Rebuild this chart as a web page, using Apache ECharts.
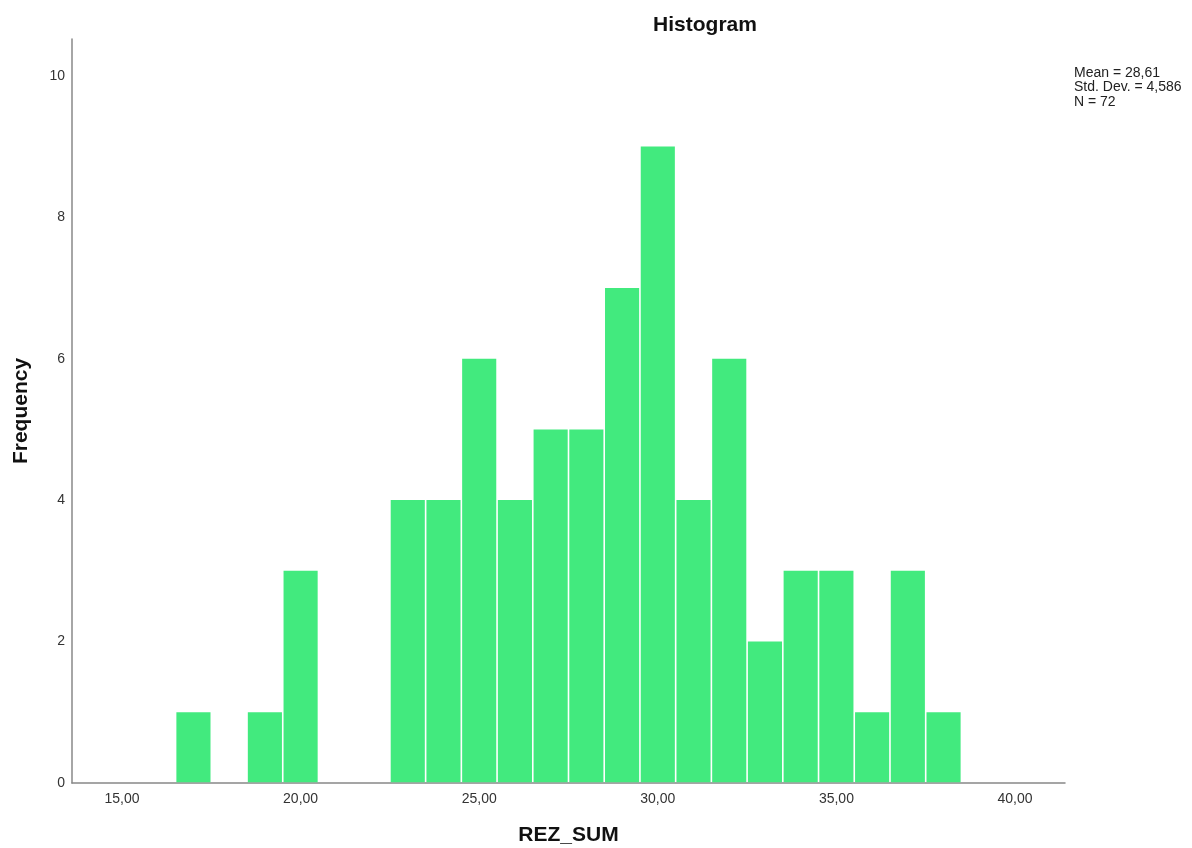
<!DOCTYPE html>
<html>
<head>
<meta charset="utf-8">
<script src="https://cdn.jsdelivr.net/npm/echarts@6/dist/echarts.min.js"></script>
<style>html,body{margin:0;padding:0;background:#fff}#c{width:1192px;height:848px}</style>
</head>
<body>
<div id="c"></div>
<script>
var binCenters = [17, 19, 20, 23, 24, 25, 26, 27, 28, 29, 30, 31, 32, 33, 34, 35, 36, 37, 38];
var frequencies = [1, 1, 3, 4, 4, 6, 4, 5, 5, 7, 9, 4, 6, 2, 3, 3, 1, 3, 1];
var binWidth = 1;
var xTickValues = [15, 20, 25, 30, 35, 40];
var xTickLabels = ['15,00', '20,00', '25,00', '30,00', '35,00', '40,00'];
var yTickValues = [0, 2, 4, 6, 8, 10];
var yTickLabels = ['0', '2', '4', '6', '8', '10'];
var statsLines = ['Mean = 28,61', 'Std. Dev. = 4,586', 'N = 72'];

var chart = echarts.init(document.getElementById('c'), null, {renderer: 'canvas'});
var FONT = '"Liberation Sans", Arial, sans-serif';
var data = binCenters.map(function (c, i) { return [c, frequencies[i]]; });

chart.setOption({
  animation: false,
  backgroundColor: '#ffffff',
  title: {
    text: 'Histogram',
    left: 700, top: 10, textAlign: 'center',
    textStyle: {fontFamily: FONT, fontSize: 21, fontWeight: 'bold', color: '#111'}
  },
  grid: {left: 72, right: 127, top: 39, bottom: 65, containLabel: false, outerBoundsMode: 'none'},
  xAxis: {
    type: 'value', min: 13.6, max: 41.4,
    name: 'REZ_SUM', nameLocation: 'middle', nameGap: 42,
    nameTextStyle: {fontFamily: FONT, fontSize: 21, fontWeight: 'bold', color: '#111'},
    axisLine: {show: true, lineStyle: {color: '#888', width: 1.5}},
    axisTick: {show: false},
    splitLine: {show: false},
    axisLabel: {
      customValues: xTickValues, margin: 9,
      fontFamily: FONT, fontSize: 14, color: '#333',
      formatter: function (v) { var i = xTickValues.indexOf(v); return i >= 0 ? xTickLabels[i] : ''; }
    }
  },
  yAxis: {
    type: 'value', min: 0, max: 10.52,
    name: 'Frequency', nameLocation: 'middle', nameGap: 40,
    nameTextStyle: {fontFamily: FONT, fontSize: 21, fontWeight: 'bold', color: '#111'},
    axisLine: {show: true, lineStyle: {color: '#888', width: 1.5}},
    axisTick: {show: false},
    splitLine: {show: false},
    axisLabel: {
      customValues: yTickValues, margin: 7,
      fontFamily: FONT, fontSize: 14, color: '#333',
      formatter: function (v) { var i = yTickValues.indexOf(v); return i >= 0 ? yTickLabels[i] : ''; }
    }
  },
  series: [{
    type: 'custom',
    data: data,
    renderItem: function (params, api) {
      var c = api.value(0), f = api.value(1);
      var p0 = api.coord([c - binWidth / 2, f]);
      var p1 = api.coord([c + binWidth / 2, 0]);
      return {
        type: 'rect',
        shape: {x: p0[0] + 0.8, y: p0[1], width: p1[0] - p0[0] - 1.6, height: p1[1] - p0[1] - 0.75},
        style: {fill: '#42EA7E'}
      };
    }
  }],
  graphic: statsLines.map(function (t, i) {
    return {
      type: 'text', left: 1074, top: 66 + i * 14.5,
      style: {text: t, fontFamily: FONT, fontSize: 14, fill: '#222'}
    };
  })
});
</script>
</body>
</html>
